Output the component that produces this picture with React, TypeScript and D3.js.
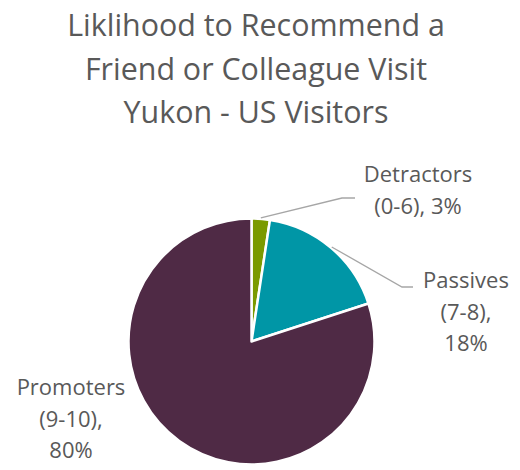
import React from "react";
import * as d3 from "d3";

const titleLines = ["Liklihood to Recommend a", "Friend or Colleague Visit", "Yukon - US Visitors"];
const categories = ["Detractors", "Passives", "Promoters"];
const ranges = ["(0-6)", "(7-8)", "(9-10)"];
const values = [2.4, 17.6, 80];
const pctLabels = ["3%", "18%", "80%"];
const colors = ["#7b9a00", "#0096a6", "#4f2a45"];

const W = 520, H = 470;
const cx = 251.5, cy = 341.5, R = 123;
const FONT = "'Open Sans', sans-serif";
const TEXT = "#595959";

// label layout (lines per label, text anchor point, leader elbow)
const labelLayout = [
  { lines: (i: number) => [categories[i], `${ranges[i]}, ${pctLabels[i]}`], x: 418, y: 182, elbow: [342, 198], end: [355, 198] },
  { lines: (i: number) => [categories[i], `${ranges[i]},`, pctLabels[i]], x: 466, y: 288, elbow: [402, 287], end: [413, 287] },
  { lines: (i: number) => [categories[i], `${ranges[i]},`, pctLabels[i]], x: 71, y: 395, elbow: null, end: null },
];

export default function App() {
  const pie = d3.pie<number>().sort(null).value((d) => d)(values);
  const arc = d3.arc<d3.PieArcDatum<number>>().innerRadius(0).outerRadius(R);
  return (
    <svg width={W} height={H} style={{ position: "absolute", left: 0, top: 0 }}>
      <rect width={W} height={H} fill="#fff" />
      {titleLines.map((t, i) => (
        <text key={i} x={256} y={36 + i * 43.5} textAnchor="middle" fontFamily={FONT} fontSize={30.4} fill={TEXT}>
          {t}
        </text>
      ))}
      <g transform={`translate(${cx},${cy})`}>
        {pie.map((p, i) => (
          <path key={i} d={arc(p) || ""} fill={colors[i]} stroke="#fff" strokeWidth={2.5} strokeLinejoin="round" />
        ))}
      </g>
      {pie.map((p, i) => {
        const L = labelLayout[i];
        const mid = (p.startAngle + p.endAngle) / 2;
        const sx = cx + Math.sin(mid) * (R + 1);
        const sy = cy - Math.cos(mid) * (R + 1);
        return (
          <g key={i}>
            {L.elbow && L.end && (
              <polyline
                points={`${sx},${sy} ${L.elbow[0]},${L.elbow[1]} ${L.end[0]},${L.end[1]}`}
                fill="none"
                stroke="#a6a6a6"
                strokeWidth={1.3}
              />
            )}
            {L.lines(i).map((t, j) => (
              <text key={j} x={L.x} y={L.y + j * 31.5} textAnchor="middle" fontFamily={FONT} fontSize={22} fill={TEXT}>
                {t}
              </text>
            ))}
          </g>
        );
      })}
    </svg>
  );
}
